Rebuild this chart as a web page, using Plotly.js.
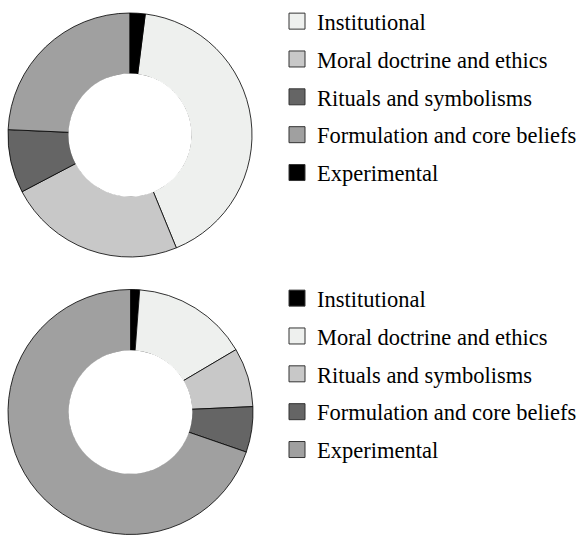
<!DOCTYPE html>
<html>
<head>
<meta charset="utf-8">
<script src="https://cdn.plot.ly/plotly-3.0.1.min.js"></script>
<style>html,body{margin:0;padding:0;background:#fff;}#chart{width:582px;height:535px;}</style>
</head>
<body>
<div id="chart"></div>
<script>
// Categories (legend order)
var categories = ["Institutional", "Moral doctrine and ethics", "Rituals and symbolisms", "Formulation and core beliefs", "Experimental"];

// Top donut values (percent)
var topValues = [41.8, 23.5, 8.4, 24.3, 2.0];
// Bottom donut values (percent)
var bottomValues = [1.2, 15.3, 7.8, 6.0, 69.7];

// Colours per category
var topColors = ["#eef0ee", "#c8c8c8", "#656565", "#a0a0a0", "#000000"];
var bottomColors = ["#000000", "#eef0ee", "#c8c8c8", "#656565", "#a0a0a0"];

var FONT = "Liberation Serif, Times New Roman, serif";
var W = 582, H = 535;

function sum(a){ return a.reduce(function(s,v){return s+v;},0); }

// pie boxes in pixels
var topBox = {x0: 8, x1: 252, y0: 13, y1: 257};
var botBox = {x0: 8, x1: 253, y0: 289.5, y1: 534.5};
var HOLE = 0.5;

function dom(b){ return {x: [b.x0/W, b.x1/W], y: [(H-b.y1)/H, (H-b.y0)/H]}; }

var traces = [];
traces.push({
  type: "pie",
  labels: categories,
  values: topValues,
  sort: false,
  direction: "clockwise",
  rotation: topValues[4] / sum(topValues) * 360,
  hole: HOLE,
  textinfo: "none",
  hoverinfo: "label+percent",
  showlegend: false,
  marker: {colors: topColors, line: {color: "#000", width: 0.8}},
  domain: dom(topBox)
});
traces.push({
  type: "pie",
  labels: categories,
  values: bottomValues,
  sort: false,
  direction: "clockwise",
  rotation: 0,
  hole: HOLE,
  textinfo: "none",
  hoverinfo: "label+percent",
  showlegend: false,
  marker: {colors: bottomColors, line: {color: "#000", width: 0.8}},
  domain: dom(botBox)
});

// Legend entries
categories.forEach(function(c, i){
  traces.push({
    type: "scatter", mode: "markers", x: [null], y: [null],
    name: c, legend: "legend", legendgroup: "t" + i,
    marker: {symbol: "square", size: 16, color: topColors[i], line: {color: "#333", width: 1}},
    hoverinfo: "skip"
  });
});
categories.forEach(function(c, i){
  traces.push({
    type: "scatter", mode: "markers", x: [null], y: [null],
    name: c, legend: "legend2", legendgroup: "b" + i,
    marker: {symbol: "square", size: 16, color: bottomColors[i], line: {color: "#333", width: 1}},
    hoverinfo: "skip"
  });
});

// white cover over the hole edge (reference shows no stroke around the hole)
function holeShape(b){
  var cx = (b.x0 + b.x1)/2, cy = (b.y0 + b.y1)/2;
  var r = Math.min(b.x1 - b.x0, b.y1 - b.y0)/2 * HOLE + 0.6;
  return {type: "circle", xref: "paper", yref: "paper",
    x0: (cx - r)/W, x1: (cx + r)/W, y0: (H - cy - r)/H, y1: (H - cy + r)/H,
    fillcolor: "#fff", line: {width: 0}, layer: "above"};
}

var legendBase = {
  xanchor: "left", yanchor: "top",
  traceorder: "grouped", tracegroupgap: 5.6,
  font: {family: FONT, size: 22.5, color: "#000"},
  bgcolor: "rgba(0,0,0,0)", borderwidth: 0
};

var layout = {
  width: W, height: H,
  margin: {l: 0, r: 0, t: 0, b: 0},
  paper_bgcolor: "#fff", plot_bgcolor: "#fff",
  font: {family: FONT},
  xaxis: {visible: false, domain: [0.99, 1]},
  yaxis: {visible: false, domain: [0.99, 1]},
  shapes: [holeShape(topBox), holeShape(botBox)],
  legend: Object.assign({}, legendBase, {x: 277/W, y: 1}),
  legend2: Object.assign({}, legendBase, {x: 277/W, y: (H-277)/H}),
  showlegend: true
};

Plotly.newPlot("chart", traces, layout, {displayModeBar: false, staticPlot: true});
</script>
</body>
</html>
